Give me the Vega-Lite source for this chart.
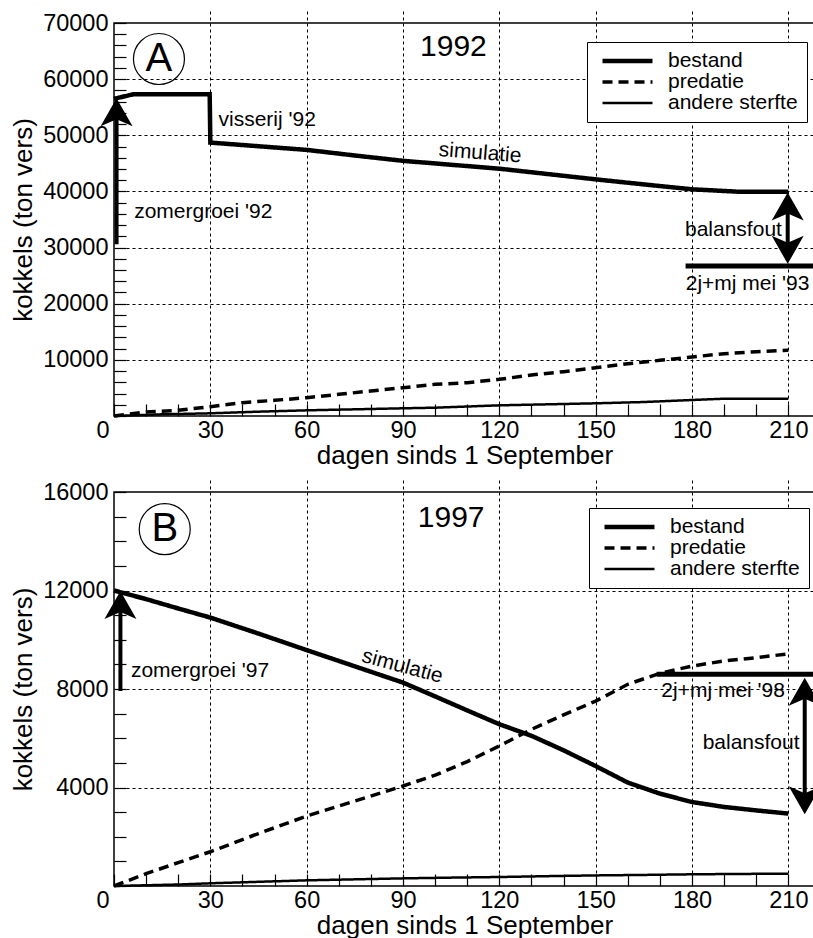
{
  "$schema": "https://vega.github.io/schema/vega-lite/v6.json",
  "background": "white",
  "padding": {"left": 9, "top": 10, "right": 0, "bottom": 0},
  "spacing": 9,
  "config": {
    "font": "Liberation Sans",
    "view": {"stroke": "black", "strokeWidth": 1.5},
    "axis": {
      "labelFont": "Liberation Sans", "titleFont": "Liberation Sans",
      "labelColor": "black", "titleColor": "black", "titleFontWeight": "normal",
      "labelFontSize": 23.5, "titleFontSize": 26,
      "domain": false, "offset": -12,
      "ticks": true, "tickColor": "black", "tickOpacity": 1, "tickWidth": 1.2, "tickSize": 12, "tickCount": 200,
      "gridColor": "black", "gridWidth": 1, "gridDash": [3, 3],
      "labelOverlap": false, "labelFlush": false, "labelBound": false
    },
    "text": {"font": "Liberation Sans", "fontSize": 21, "color": "black"}
  },
  "datasets": {
    "a_lijnen": [
      {"dag": 0, "waarde": 56500, "serie": "bestand"},
      {"dag": 3, "waarde": 56900, "serie": "bestand"},
      {"dag": 6, "waarde": 57300, "serie": "bestand"},
      {"dag": 29.8, "waarde": 57300, "serie": "bestand"},
      {"dag": 30, "waarde": 48700, "serie": "bestand"},
      {"dag": 45, "waarde": 48050, "serie": "bestand"},
      {"dag": 60, "waarde": 47400, "serie": "bestand"},
      {"dag": 75, "waarde": 46400, "serie": "bestand"},
      {"dag": 90, "waarde": 45450, "serie": "bestand"},
      {"dag": 105, "waarde": 44750, "serie": "bestand"},
      {"dag": 120, "waarde": 44050, "serie": "bestand"},
      {"dag": 135, "waarde": 43100, "serie": "bestand"},
      {"dag": 150, "waarde": 42150, "serie": "bestand"},
      {"dag": 165, "waarde": 41250, "serie": "bestand"},
      {"dag": 180, "waarde": 40380, "serie": "bestand"},
      {"dag": 194, "waarde": 39960, "serie": "bestand"},
      {"dag": 210, "waarde": 39960, "serie": "bestand"},
      {"dag": 0, "waarde": 0, "serie": "predatie"},
      {"dag": 10, "waarde": 710, "serie": "predatie"},
      {"dag": 20, "waarde": 1010, "serie": "predatie"},
      {"dag": 30, "waarde": 1660, "serie": "predatie"},
      {"dag": 40, "waarde": 2370, "serie": "predatie"},
      {"dag": 50, "waarde": 2790, "serie": "predatie"},
      {"dag": 60, "waarde": 3260, "serie": "predatie"},
      {"dag": 70, "waarde": 3860, "serie": "predatie"},
      {"dag": 80, "waarde": 4450, "serie": "predatie"},
      {"dag": 90, "waarde": 5040, "serie": "predatie"},
      {"dag": 100, "waarde": 5640, "serie": "predatie"},
      {"dag": 110, "waarde": 5930, "serie": "predatie"},
      {"dag": 120, "waarde": 6530, "serie": "predatie"},
      {"dag": 130, "waarde": 7300, "serie": "predatie"},
      {"dag": 140, "waarde": 7890, "serie": "predatie"},
      {"dag": 150, "waarde": 8600, "serie": "predatie"},
      {"dag": 160, "waarde": 9310, "serie": "predatie"},
      {"dag": 170, "waarde": 9910, "serie": "predatie"},
      {"dag": 180, "waarde": 10510, "serie": "predatie"},
      {"dag": 190, "waarde": 11100, "serie": "predatie"},
      {"dag": 200, "waarde": 11460, "serie": "predatie"},
      {"dag": 210, "waarde": 11700, "serie": "predatie"},
      {"dag": 0, "waarde": 0, "serie": "andere sterfte"},
      {"dag": 15, "waarde": 300, "serie": "andere sterfte"},
      {"dag": 30, "waarde": 480, "serie": "andere sterfte"},
      {"dag": 45, "waarde": 770, "serie": "andere sterfte"},
      {"dag": 60, "waarde": 1010, "serie": "andere sterfte"},
      {"dag": 90, "waarde": 1370, "serie": "andere sterfte"},
      {"dag": 100, "waarde": 1480, "serie": "andere sterfte"},
      {"dag": 120, "waarde": 1900, "serie": "andere sterfte"},
      {"dag": 150, "waarde": 2260, "serie": "andere sterfte"},
      {"dag": 165, "waarde": 2490, "serie": "andere sterfte"},
      {"dag": 180, "waarde": 2850, "serie": "andere sterfte"},
      {"dag": 190, "waarde": 3080, "serie": "andere sterfte"},
      {"dag": 210, "waarde": 3080, "serie": "andere sterfte"}
    ],
    "b_lijnen": [
      {"dag": 0, "waarde": 12000, "serie": "bestand"},
      {"dag": 10, "waarde": 11650, "serie": "bestand"},
      {"dag": 20, "waarde": 11270, "serie": "bestand"},
      {"dag": 30, "waarde": 10900, "serie": "bestand"},
      {"dag": 45, "waarde": 10250, "serie": "bestand"},
      {"dag": 60, "waarde": 9580, "serie": "bestand"},
      {"dag": 75, "waarde": 8920, "serie": "bestand"},
      {"dag": 90, "waarde": 8260, "serie": "bestand"},
      {"dag": 100, "waarde": 7700, "serie": "bestand"},
      {"dag": 110, "waarde": 7130, "serie": "bestand"},
      {"dag": 120, "waarde": 6570, "serie": "bestand"},
      {"dag": 130, "waarde": 6100, "serie": "bestand"},
      {"dag": 140, "waarde": 5510, "serie": "bestand"},
      {"dag": 150, "waarde": 4870, "serie": "bestand"},
      {"dag": 160, "waarde": 4200, "serie": "bestand"},
      {"dag": 170, "waarde": 3750, "serie": "bestand"},
      {"dag": 180, "waarde": 3410, "serie": "bestand"},
      {"dag": 190, "waarde": 3210, "serie": "bestand"},
      {"dag": 200, "waarde": 3070, "serie": "bestand"},
      {"dag": 210, "waarde": 2940, "serie": "bestand"},
      {"dag": 0, "waarde": 0, "serie": "predatie"},
      {"dag": 10, "waarde": 500, "serie": "predatie"},
      {"dag": 20, "waarde": 950, "serie": "predatie"},
      {"dag": 30, "waarde": 1390, "serie": "predatie"},
      {"dag": 45, "waarde": 2130, "serie": "predatie"},
      {"dag": 60, "waarde": 2840, "serie": "predatie"},
      {"dag": 75, "waarde": 3450, "serie": "predatie"},
      {"dag": 90, "waarde": 4060, "serie": "predatie"},
      {"dag": 100, "waarde": 4500, "serie": "predatie"},
      {"dag": 110, "waarde": 5050, "serie": "predatie"},
      {"dag": 120, "waarde": 5690, "serie": "predatie"},
      {"dag": 130, "waarde": 6360, "serie": "predatie"},
      {"dag": 140, "waarde": 6950, "serie": "predatie"},
      {"dag": 150, "waarde": 7510, "serie": "predatie"},
      {"dag": 160, "waarde": 8190, "serie": "predatie"},
      {"dag": 170, "waarde": 8640, "serie": "predatie"},
      {"dag": 180, "waarde": 8930, "serie": "predatie"},
      {"dag": 190, "waarde": 9140, "serie": "predatie"},
      {"dag": 200, "waarde": 9270, "serie": "predatie"},
      {"dag": 210, "waarde": 9430, "serie": "predatie"},
      {"dag": 0, "waarde": 0, "serie": "andere sterfte"},
      {"dag": 10, "waarde": 30, "serie": "andere sterfte"},
      {"dag": 20, "waarde": 60, "serie": "andere sterfte"},
      {"dag": 30, "waarde": 110, "serie": "andere sterfte"},
      {"dag": 45, "waarde": 170, "serie": "andere sterfte"},
      {"dag": 60, "waarde": 230, "serie": "andere sterfte"},
      {"dag": 75, "waarde": 270, "serie": "andere sterfte"},
      {"dag": 90, "waarde": 310, "serie": "andere sterfte"},
      {"dag": 105, "waarde": 340, "serie": "andere sterfte"},
      {"dag": 120, "waarde": 365, "serie": "andere sterfte"},
      {"dag": 135, "waarde": 400, "serie": "andere sterfte"},
      {"dag": 150, "waarde": 430, "serie": "andere sterfte"},
      {"dag": 165, "waarde": 450, "serie": "andere sterfte"},
      {"dag": 180, "waarde": 475, "serie": "andere sterfte"},
      {"dag": 195, "waarde": 490, "serie": "andere sterfte"},
      {"dag": 210, "waarde": 500, "serie": "andere sterfte"}
    ],
    "a_tekst": [
      {"dag": 47.7, "waarde": 52700, "tekst": "visserij '92", "soort": "label"},
      {"dag": 27.8, "waarde": 36340, "tekst": "zomergroei '92", "soort": "label"},
      {"dag": 192.9, "waarde": 33130, "tekst": "balansfout", "soort": "label"},
      {"dag": 197.3, "waarde": 23510, "tekst": "2j+mj mei '93", "soort": "label"},
      {"dag": 105.7, "waarde": 65730, "tekst": "1992", "soort": "jaar"},
      {"dag": 14.0, "waarde": 63590, "tekst": "A", "soort": "paneel"},
      {"dag": 114, "waarde": 46800, "tekst": "simulatie", "soort": "schuin"}
    ],
    "b_tekst": [
      {"dag": 26.8, "waarde": 8750, "tekst": "zomergroei '97", "soort": "label"},
      {"dag": 198.4, "waarde": 5807, "tekst": "balansfout", "soort": "label"},
      {"dag": 189.7, "waarde": 7920, "tekst": "2j+mj mei '98", "soort": "label"},
      {"dag": 105, "waarde": 14960, "tekst": "1997", "soort": "jaar"},
      {"dag": 15.8, "waarde": 14490, "tekst": "B", "soort": "paneel"},
      {"dag": 89.8, "waarde": 8914, "tekst": "simulatie", "soort": "schuin"}
    ],
    "a_schacht": [
      {"dag": 0.8, "van": 30580, "tot": 55500},
      {"dag": 209.8, "van": 27800, "tot": 39000}
    ],
    "b_schacht": [
      {"dag": 2.0, "van": 7920, "tot": 11700},
      {"dag": 215.1, "van": 3200, "tot": 8200}
    ],
    "a_kop": [
      {"dag": 0.8, "waarde": 56590, "richting": "op"},
      {"dag": 209.8, "waarde": 39800, "richting": "op"},
      {"dag": 209.8, "waarde": 27100, "richting": "neer"}
    ],
    "b_kop": [
      {"dag": 2.0, "waarde": 11980, "richting": "op"},
      {"dag": 215.1, "waarde": 8460, "richting": "op"},
      {"dag": 215.1, "waarde": 2910, "richting": "neer"}
    ],
    "a_meting": [{"van": 178, "tot": 218.3, "waarde": 26720}],
    "b_meting": [{"van": 169, "tot": 218.3, "waarde": 8600}]
  },
  "resolve": {
    "scale": {"strokeDash": "independent", "strokeWidth": "independent"},
    "legend": {"strokeDash": "independent", "strokeWidth": "independent"}
  },
  "vconcat": [
    {
      "width": 701, "height": 393,
      "layer": [
        {
          "data": {"name": "a_lijnen"},
          "mark": {"type": "line", "color": "black", "strokeCap": "butt"},
          "encoding": {
            "x": {"field": "dag", "type": "quantitative",
              "scale": {"domain": [0, 218.3], "nice": false, "zero": false},
              "axis": {"title": "dagen sinds 1 September", "format": "d", "labelOverlap": false, "tickCount": 200, "ticks": true, "tickColor": "black", "tickWidth": 1.2,
                "values": [0,10,20,30,40,50,60,70,80,90,100,110,120,130,140,150,160,170,180,190,200,210],
                "labelExpr": "datum.value % 30 === 0 ? datum.label : ''",
                "labelPadding": 2, "titlePadding": 1,
                "labelAlign": {"condition": {"test": "datum.value === 0", "value": "right"}, "value": "center"},
                "labelOffset": {"condition": {"test": "datum.value === 0", "value": -5}, "value": 0},
                "gridOpacity": {"condition": {"test": "datum.value % 30 === 0 && datum.value > 0", "value": 1}, "value": 0}}},
            "y": {"field": "waarde", "type": "quantitative",
              "scale": {"domain": [0, 70000], "nice": false},
              "axis": {"title": "kokkels (ton vers)", "format": "d", "labelOverlap": false, "tickCount": 200, "ticks": true, "tickColor": "black", "tickWidth": 1.2,
                "values": [0,2000,4000,6000,8000,10000,12000,14000,16000,18000,20000,22000,24000,26000,28000,30000,32000,34000,36000,38000,40000,42000,44000,46000,48000,50000,52000,54000,56000,58000,60000,62000,64000,66000,68000,70000],
                "labelExpr": "datum.value % 10000 === 0 && datum.value > 0 ? datum.label : ''",
                "labelPadding": 6, "titlePadding": 6,
                "gridOpacity": {"condition": {"test": "datum.value % 10000 === 0 && datum.value > 0 && datum.value < 70000", "value": 1}, "value": 0}}},
            "strokeDash": {"field": "serie", "type": "nominal",
              "scale": {"domain": ["bestand", "predatie", "andere sterfte"], "range": [[1, 0], [10, 6], [1, 0]]},
              "legend": {"title": null, "orient": "none", "legendX": 473, "legendY": 19, "symbolType": "stroke", "symbolSize": 2500, "symbolOffset": 4, "symbolStrokeColor": "black", "labelFontSize": 21, "labelFont": "Liberation Sans", "labelColor": "black", "labelOffset": 13, "strokeColor": "black", "fillColor": "white", "padding": 9, "rowPadding": 0, "clipHeight": 20, "labelLimit": 300}},
            "strokeWidth": {"field": "serie", "type": "nominal",
              "scale": {"domain": ["bestand", "predatie", "andere sterfte"], "range": [4.5, 2.5, 1]},
              "legend": {"title": null, "orient": "none", "legendX": 473, "legendY": 19, "symbolType": "stroke", "symbolSize": 2500, "symbolOffset": 4, "symbolStrokeColor": "black", "labelFontSize": 21, "labelFont": "Liberation Sans", "labelColor": "black", "labelOffset": 13, "strokeColor": "black", "fillColor": "white", "padding": 9, "rowPadding": 0, "clipHeight": 20, "labelLimit": 300}}
          }
        },
        {
          "data": {"name": "a_meting"},
          "mark": {"type": "rule", "color": "black", "strokeWidth": 5},
          "encoding": {
            "x": {"field": "van", "type": "quantitative"},
            "x2": {"field": "tot"},
            "y": {"field": "waarde", "type": "quantitative"}
          }
        },
        {
          "data": {"name": "a_schacht"},
          "mark": {"type": "rule", "color": "black", "strokeWidth": 4},
          "encoding": {
            "x": {"field": "dag", "type": "quantitative"},
            "y": {"field": "van", "type": "quantitative"},
            "y2": {"field": "tot"}
          }
        },
        {
          "data": {"name": "a_kop"},
          "mark": {"type": "point", "filled": true, "color": "black", "opacity": 1, "strokeWidth": 0, "size": 400},
          "encoding": {
            "x": {"field": "dag", "type": "quantitative"},
            "y": {"field": "waarde", "type": "quantitative"},
            "shape": {"field": "richting", "type": "nominal", "legend": null,
              "scale": {"domain": ["op", "neer"], "range": ["M0,0L-1.6,2.8L0,2.1L1.6,2.8Z", "M0,0L-1.6,-2.8L0,-2.1L1.6,-2.8Z"]}}
          }
        },
        {
          "data": {"name": "a_tekst"},
          "transform": [{"filter": "datum.soort === 'label'"}],
          "mark": {"type": "text", "fontSize": 21, "align": "center", "baseline": "middle"},
          "encoding": {
            "x": {"field": "dag", "type": "quantitative"},
            "y": {"field": "waarde", "type": "quantitative"},
            "text": {"field": "tekst"}
          }
        },
        {
          "data": {"name": "a_tekst"},
          "transform": [{"filter": "datum.soort === 'schuin'"}],
          "mark": {"type": "text", "fontSize": 21, "align": "center", "baseline": "middle", "angle": 4.5},
          "encoding": {
            "x": {"field": "dag", "type": "quantitative"},
            "y": {"field": "waarde", "type": "quantitative"},
            "text": {"field": "tekst"}
          }
        },
        {
          "data": {"name": "a_tekst"},
          "transform": [{"filter": "datum.soort === 'jaar'"}],
          "mark": {"type": "text", "fontSize": 30, "align": "center", "baseline": "middle"},
          "encoding": {
            "x": {"field": "dag", "type": "quantitative"},
            "y": {"field": "waarde", "type": "quantitative"},
            "text": {"field": "tekst"}
          }
        },
        {
          "data": {"name": "a_tekst"},
          "transform": [{"filter": "datum.soort === 'paneel'"}],
          "mark": {"type": "text", "fontSize": 40, "align": "center", "baseline": "middle"},
          "encoding": {
            "x": {"field": "dag", "type": "quantitative"},
            "y": {"field": "waarde", "type": "quantitative"},
            "text": {"field": "tekst"}
          }
        },
        {
          "data": {"name": "a_tekst"},
          "transform": [{"filter": "datum.soort === 'paneel'"}],
          "mark": {"type": "point", "shape": "circle", "filled": false, "color": "black", "opacity": 1, "strokeWidth": 1.2, "size": 2600},
          "encoding": {
            "x": {"field": "dag", "type": "quantitative"},
            "y": {"field": "waarde", "type": "quantitative"}
          }
        }
      ]
    },
    {
      "width": 701, "height": 394,
      "layer": [
        {
          "data": {"name": "b_lijnen"},
          "mark": {"type": "line", "color": "black", "strokeCap": "butt"},
          "encoding": {
            "x": {"field": "dag", "type": "quantitative",
              "scale": {"domain": [0, 218.3], "nice": false, "zero": false},
              "axis": {"title": "dagen sinds 1 September", "format": "d", "labelOverlap": false, "tickCount": 200, "ticks": true, "tickColor": "black", "tickWidth": 1.2,
                "values": [0,10,20,30,40,50,60,70,80,90,100,110,120,130,140,150,160,170,180,190,200,210],
                "labelExpr": "datum.value % 30 === 0 ? datum.label : ''",
                "labelPadding": 2, "titlePadding": 1,
                "labelAlign": {"condition": {"test": "datum.value === 0", "value": "right"}, "value": "center"},
                "labelOffset": {"condition": {"test": "datum.value === 0", "value": -5}, "value": 0},
                "gridOpacity": {"condition": {"test": "datum.value % 30 === 0 && datum.value > 0", "value": 1}, "value": 0}}},
            "y": {"field": "waarde", "type": "quantitative",
              "scale": {"domain": [0, 16000], "nice": false},
              "axis": {"title": "kokkels (ton vers)", "format": "d", "labelOverlap": false, "tickCount": 200, "ticks": true, "tickColor": "black", "tickWidth": 1.2,
                "values": [0,1000,2000,3000,4000,5000,6000,7000,8000,9000,10000,11000,12000,13000,14000,15000,16000],
                "labelExpr": "datum.value % 4000 === 0 && datum.value > 0 ? datum.label : ''",
                "labelPadding": 6, "titlePadding": 6,
                "gridOpacity": {"condition": {"test": "datum.value % 4000 === 0 && datum.value > 0 && datum.value < 16000", "value": 1}, "value": 0}}},
            "strokeDash": {"field": "serie", "type": "nominal",
              "scale": {"domain": ["bestand", "predatie", "andere sterfte"], "range": [[1, 0], [10, 6], [1, 0]]},
              "legend": {"title": null, "orient": "none", "legendX": 475, "legendY": 16, "symbolType": "stroke", "symbolSize": 2500, "symbolOffset": 4, "symbolStrokeColor": "black", "labelFontSize": 21, "labelFont": "Liberation Sans", "labelColor": "black", "labelOffset": 13, "strokeColor": "black", "fillColor": "white", "padding": 9, "rowPadding": 0, "clipHeight": 20, "labelLimit": 300}},
            "strokeWidth": {"field": "serie", "type": "nominal",
              "scale": {"domain": ["bestand", "predatie", "andere sterfte"], "range": [4.5, 2.5, 1]},
              "legend": {"title": null, "orient": "none", "legendX": 475, "legendY": 16, "symbolType": "stroke", "symbolSize": 2500, "symbolOffset": 4, "symbolStrokeColor": "black", "labelFontSize": 21, "labelFont": "Liberation Sans", "labelColor": "black", "labelOffset": 13, "strokeColor": "black", "fillColor": "white", "padding": 9, "rowPadding": 0, "clipHeight": 20, "labelLimit": 300}}
          }
        },
        {
          "data": {"name": "b_meting"},
          "mark": {"type": "rule", "color": "black", "strokeWidth": 5},
          "encoding": {
            "x": {"field": "van", "type": "quantitative"},
            "x2": {"field": "tot"},
            "y": {"field": "waarde", "type": "quantitative"}
          }
        },
        {
          "data": {"name": "b_schacht"},
          "mark": {"type": "rule", "color": "black", "strokeWidth": 4},
          "encoding": {
            "x": {"field": "dag", "type": "quantitative"},
            "y": {"field": "van", "type": "quantitative"},
            "y2": {"field": "tot"}
          }
        },
        {
          "data": {"name": "b_kop"},
          "mark": {"type": "point", "filled": true, "color": "black", "opacity": 1, "strokeWidth": 0, "size": 400},
          "encoding": {
            "x": {"field": "dag", "type": "quantitative"},
            "y": {"field": "waarde", "type": "quantitative"},
            "shape": {"field": "richting", "type": "nominal", "legend": null,
              "scale": {"domain": ["op", "neer"], "range": ["M0,0L-1.6,2.8L0,2.1L1.6,2.8Z", "M0,0L-1.6,-2.8L0,-2.1L1.6,-2.8Z"]}}
          }
        },
        {
          "data": {"name": "b_tekst"},
          "transform": [{"filter": "datum.soort === 'label'"}],
          "mark": {"type": "text", "fontSize": 21, "align": "center", "baseline": "middle"},
          "encoding": {
            "x": {"field": "dag", "type": "quantitative"},
            "y": {"field": "waarde", "type": "quantitative"},
            "text": {"field": "tekst"}
          }
        },
        {
          "data": {"name": "b_tekst"},
          "transform": [{"filter": "datum.soort === 'schuin'"}],
          "mark": {"type": "text", "fontSize": 21, "align": "center", "baseline": "middle", "angle": 15},
          "encoding": {
            "x": {"field": "dag", "type": "quantitative"},
            "y": {"field": "waarde", "type": "quantitative"},
            "text": {"field": "tekst"}
          }
        },
        {
          "data": {"name": "b_tekst"},
          "transform": [{"filter": "datum.soort === 'jaar'"}],
          "mark": {"type": "text", "fontSize": 30, "align": "center", "baseline": "middle"},
          "encoding": {
            "x": {"field": "dag", "type": "quantitative"},
            "y": {"field": "waarde", "type": "quantitative"},
            "text": {"field": "tekst"}
          }
        },
        {
          "data": {"name": "b_tekst"},
          "transform": [{"filter": "datum.soort === 'paneel'"}],
          "mark": {"type": "text", "fontSize": 40, "align": "center", "baseline": "middle"},
          "encoding": {
            "x": {"field": "dag", "type": "quantitative"},
            "y": {"field": "waarde", "type": "quantitative"},
            "text": {"field": "tekst"}
          }
        },
        {
          "data": {"name": "b_tekst"},
          "transform": [{"filter": "datum.soort === 'paneel'"}],
          "mark": {"type": "point", "shape": "circle", "filled": false, "color": "black", "opacity": 1, "strokeWidth": 1.2, "size": 2600},
          "encoding": {
            "x": {"field": "dag", "type": "quantitative"},
            "y": {"field": "waarde", "type": "quantitative"}
          }
        }
      ]
    }
  ]
}
